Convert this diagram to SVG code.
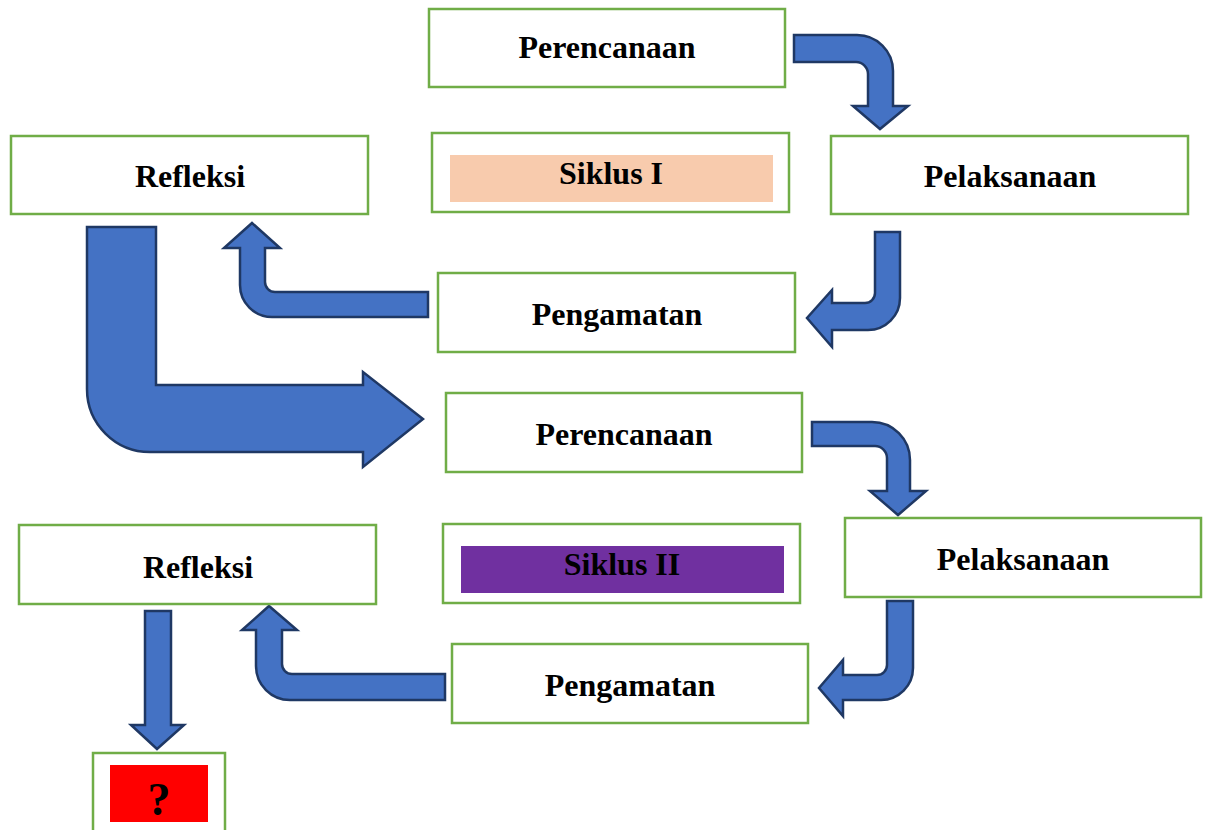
<svg xmlns="http://www.w3.org/2000/svg" width="1209" height="830" viewBox="0 0 1209 830">
<style>
.box{fill:#fff;stroke:#70AD47;stroke-width:2.5}
.t{font-family:"Liberation Serif","Times New Roman",serif;font-weight:bold;font-size:32px;fill:#000;text-anchor:middle}
.arr{fill:#4472C4;stroke:#1F3864;stroke-width:2.5;stroke-linejoin:miter}
</style>
<rect width="1209" height="830" fill="#fff"/>
<g id="connectors">
<path class="arr" d="M794,35 L857,35 A36,36 0 0 1 893,71 L893,106 L908,106 L880,129 L853,106 L868,106 L868,74 A12,12 0 0 0 856,62 L794,62 Z"/>
<path class="arr" d="M875,232 L900,232 L900,298 A32,32 0 0 1 868,330 L832,330 L832,347 L807,318 L832,290 L832,303 L865,303 A10,10 0 0 0 875,293 Z"/>
<path class="arr" d="M428,292 L275,292 A10,10 0 0 1 265,282 L265,248 L280,248 L252,223 L224,248 L240,248 L240,285 A32,32 0 0 0 272,317 L428,317 Z"/>
<path class="arr" d="M87,227 L156,227 L156,385 L363,385 L363,372 L423,419 L363,467 L363,452 L150,452 A63,63 0 0 1 87,389 Z"/>
<path class="arr" d="M812,422 L872,422 A38,38 0 0 1 910,460 L910,491 L926,491 L898,515 L870,491 L887,491 L887,458 A12,12 0 0 0 875,446 L812,446 Z"/>
<path class="arr" d="M887,601 L913,601 L913,668 A32,32 0 0 1 881,700 L843,700 L843,716 L819,688 L843,660 L843,675 L877,675 A10,10 0 0 0 887,665 Z"/>
<path class="arr" d="M445,674 L292,674 A10,10 0 0 1 282,664 L282,630 L297,630 L269,606 L242,630 L256,630 L256,666 A34,34 0 0 0 290,700 L445,700 Z"/>
<path class="arr" d="M145,611 L171,611 L171,725 L184,725 L157,749 L131,725 L145,725 Z"/>
</g>
<g id="perencanaan1"><rect class="box" x="429" y="9" width="356" height="78"/><text class="t" x="607" y="58">Perencanaan</text></g>
<g id="refleksi1"><rect class="box" x="11" y="136" width="357" height="78"/><text class="t" x="190" y="187">Refleksi</text></g>
<g id="siklus1"><rect class="box" x="432" y="133" width="357" height="79"/><rect x="450" y="155" width="323" height="47" fill="#F8CBAD"/><text class="t" x="611" y="184">Siklus I</text></g>
<g id="pelaksanaan1"><rect class="box" x="831" y="136" width="357" height="78"/><text class="t" x="1010" y="187">Pelaksanaan</text></g>
<g id="pengamatan1"><rect class="box" x="438" y="273" width="357" height="79"/><text class="t" x="617" y="325">Pengamatan</text></g>
<g id="perencanaan2"><rect class="box" x="446" y="393" width="356" height="79"/><text class="t" x="624" y="445">Perencanaan</text></g>
<g id="siklus2"><rect class="box" x="443" y="524" width="357" height="79"/><rect x="461" y="546" width="323" height="47" fill="#7030A0"/><text class="t" x="622" y="575">Siklus II</text></g>
<g id="pelaksanaan2"><rect class="box" x="845" y="518" width="356" height="79"/><text class="t" x="1023" y="570">Pelaksanaan</text></g>
<g id="refleksi2"><rect class="box" x="19" y="525" width="357" height="79"/><text class="t" x="198" y="578">Refleksi</text></g>
<g id="pengamatan2"><rect class="box" x="452" y="644" width="356" height="79"/><text class="t" x="630" y="696">Pengamatan</text></g>
<g id="question"><rect class="box" x="93" y="753" width="132" height="90"/><rect x="110" y="765" width="98" height="57" fill="#FF0000"/><text class="t" x="159" y="815" style="font-size:46px">?</text></g>
</svg>
